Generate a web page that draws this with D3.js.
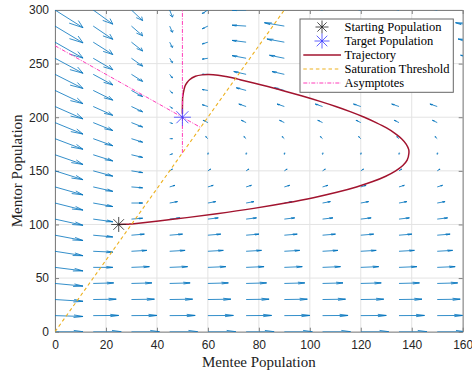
<!DOCTYPE html>
<html lang="en">
<head>
<meta charset="UTF-8">
<title>Mentor / Mentee</title>
<script src="https://cdn.jsdelivr.net/npm/d3@7"></script>
<style>
  body { margin: 0; background: #fff; }
  svg { display: block; }
</style>
</head>
<body>
<svg id="mainsvg" width="472" height="373"></svg>
<script>
// vector field grid (mentee x, mentor y)
const gridX = [0, 15, 30, 45, 60, 75, 90, 105, 120, 135, 150, 165];
const gridY = [0, 15, 30, 45, 60, 75, 90, 105, 120, 135, 150, 165, 180, 195, 210, 225, 240, 255, 270, 285, 300];
// one row per gridY value
const fieldU = [
  [50, 50, 50, 50, 50, 50, 50, 50, 50, 50, 50, 50],
  [50, 45.5, 45.5, 45.5, 45.5, 45.5, 45.5, 45.5, 45.5, 45.5, 45.5, 45.5],
  [50, 41, 41, 41, 41, 41, 41, 41, 41, 41, 41, 41],
  [50, 36.5, 36.5, 36.5, 36.5, 36.5, 36.5, 36.5, 36.5, 36.5, 36.5, 36.5],
  [50, 35, 32, 32, 32, 32, 32, 32, 32, 32, 32, 32],
  [50, 35, 27.5, 27.5, 27.5, 27.5, 27.5, 27.5, 27.5, 27.5, 27.5, 27.5],
  [50, 35, 23, 23, 23, 23, 23, 23, 23, 23, 23, 23],
  [50, 35, 20, 18.5, 18.5, 18.5, 18.5, 18.5, 18.5, 18.5, 18.5, 18.5],
  [50, 35, 20, 14, 14, 14, 14, 14, 14, 14, 14, 14],
  [50, 35, 20, 9.5, 9.5, 9.5, 9.5, 9.5, 9.5, 9.5, 9.5, 9.5],
  [50, 35, 20, 5, 5, 5, 5, 5, 5, 5, 5, 5],
  [50, 35, 20, 5, 0.5, 0.5, 0.5, 0.5, 0.5, 0.5, 0.5, 0.5],
  [50, 35, 20, 5, -4, -4, -4, -4, -4, -4, -4, -4],
  [50, 35, 20, 5, -8.5, -8.5, -8.5, -8.5, -8.5, -8.5, -8.5, -8.5],
  [50, 35, 20, 5, -10, -13, -13, -13, -13, -13, -13, -13],
  [50, 35, 20, 5, -10, -17.5, -17.5, -17.5, -17.5, -17.5, -17.5, -17.5],
  [50, 35, 20, 5, -10, -22, -22, -22, -22, -22, -22, -22],
  [50, 35, 20, 5, -10, -25, -26.5, -26.5, -26.5, -26.5, -26.5, -26.5],
  [50, 35, 20, 5, -10, -25, -31, -31, -31, -31, -31, -31],
  [50, 35, 20, 5, -10, -25, -35.5, -35.5, -35.5, -35.5, -35.5, -35.5],
  [50, 35, 20, 5, -10, -25, -40, -40, -40, -40, -40, -40]
];
const fieldV = [
  [0, 0, 0, 0, 0, 0, 0, 0, 0, 0, 0, 0],
  [-3.75, 0.75, 0.75, 0.75, 0.75, 0.75, 0.75, 0.75, 0.75, 0.75, 0.75, 0.75],
  [-7.5, 1.5, 1.5, 1.5, 1.5, 1.5, 1.5, 1.5, 1.5, 1.5, 1.5, 1.5],
  [-11.25, 2.25, 2.25, 2.25, 2.25, 2.25, 2.25, 2.25, 2.25, 2.25, 2.25, 2.25],
  [-15, 0, 3, 3, 3, 3, 3, 3, 3, 3, 3, 3],
  [-18.75, -3.75, 3.75, 3.75, 3.75, 3.75, 3.75, 3.75, 3.75, 3.75, 3.75, 3.75],
  [-22.5, -7.5, 4.5, 4.5, 4.5, 4.5, 4.5, 4.5, 4.5, 4.5, 4.5, 4.5],
  [-26.25, -11.25, 3.75, 5.25, 5.25, 5.25, 5.25, 5.25, 5.25, 5.25, 5.25, 5.25],
  [-30, -15, 0, 6, 6, 6, 6, 6, 6, 6, 6, 6],
  [-33.75, -18.75, -3.75, 6.75, 6.75, 6.75, 6.75, 6.75, 6.75, 6.75, 6.75, 6.75],
  [-37.5, -22.5, -7.5, 7.5, 7.5, 7.5, 7.5, 7.5, 7.5, 7.5, 7.5, 7.5],
  [-41.25, -26.25, -11.25, 3.75, 8.25, 8.25, 8.25, 8.25, 8.25, 8.25, 8.25, 8.25],
  [-45, -30, -15, 0, 9, 9, 9, 9, 9, 9, 9, 9],
  [-48.75, -33.75, -18.75, -3.75, 9.75, 9.75, 9.75, 9.75, 9.75, 9.75, 9.75, 9.75],
  [-52.5, -37.5, -22.5, -7.5, 7.5, 10.5, 10.5, 10.5, 10.5, 10.5, 10.5, 10.5],
  [-56.25, -41.25, -26.25, -11.25, 3.75, 11.25, 11.25, 11.25, 11.25, 11.25, 11.25, 11.25],
  [-60, -45, -30, -15, 0, 12, 12, 12, 12, 12, 12, 12],
  [-63.75, -48.75, -33.75, -18.75, -3.75, 11.25, 12.75, 12.75, 12.75, 12.75, 12.75, 12.75],
  [-67.5, -52.5, -37.5, -22.5, -7.5, 7.5, 13.5, 13.5, 13.5, 13.5, 13.5, 13.5],
  [-71.25, -56.25, -41.25, -26.25, -11.25, 3.75, 14.25, 14.25, 14.25, 14.25, 14.25, 14.25],
  [-75, -60, -45, -30, -15, 0, 15, 15, 15, 15, 15, 15]
];

// trajectory
const trajX = [25, 27, 29, 30.2, 47.0, 63.5, 78.0, 90.5, 101.4, 110.6, 118.3, 124.7, 129.8, 133.7, 136.5, 138.2, 138.9, 138.8, 137.8, 136.0, 133.4, 130.1, 126.0, 121.4, 116.1, 110.2, 103.7, 96.7, 89.2, 81.1, 72.6, 70.9, 67.1, 64.0, 60.4, 57.7, 55.1, 52.8, 51.7, 51.0, 50.4, 50.1, 50.05, 50.0, 50.0, 50.0];
const trajY = [100, 100.1, 100.3, 100.5, 105, 110, 115, 120, 125, 130, 135, 140, 145, 150, 155, 160, 166.7, 170, 175, 180, 185, 190, 195, 200, 205, 210, 215, 220, 225, 230, 235, 236.1, 238.0, 239.2, 239.8, 239.5, 238.2, 235.0, 231.9, 228.8, 223.0, 218.3, 214.3, 208.6, 205.2, 203.2];

const startPop = [25, 100];
const targetPop = [50, 200];
const saturationX = [0, 90];
const saturationY = [0, 300];
const asymVertX = [50, 50];
const asymVertY = [166.7, 300];
const asymDiagX = [0, 57.14];
const asymDiagY = [266.67, 190.48];

const xTicks = [0, 20, 40, 60, 80, 100, 120, 140, 160];
const yTicks = [0, 50, 100, 150, 200, 250, 300];
const legendLabels = ["Starting Population", "Target Population", "Trajectory", "Saturation Threshold", "Asymptotes"];

const svg = d3.select("#mainsvg");
const x = d3.scaleLinear().domain([0, 160]).range([55, 462.7]);
const y = d3.scaleLinear().domain([0, 300]).range([331.7, 10]);

const axisColor = "#808080";
const quiverColor = "#0072BD";
const trajColor = "#A2142F";
const satColor = "#EDB120";
const asymColor = "#ff3cb9";

svg.append("defs").append("clipPath").attr("id", "plotclip")
  .append("rect")
  .attr("x", x(0)).attr("y", y(300))
  .attr("width", x(160) - x(0)).attr("height", y(0) - y(300));

// grid lines
const grid = svg.append("g");
grid.selectAll(".gx").data(xTicks).join("line")
  .attr("x1", d => x(d)).attr("x2", d => x(d))
  .attr("y1", y(0)).attr("y2", y(300))
  .attr("stroke", "#e3e3e3").attr("stroke-width", 1);
grid.selectAll(".gy").data(yTicks).join("line")
  .attr("y1", d => y(d)).attr("y2", d => y(d))
  .attr("x1", x(0)).attr("x2", x(160))
  .attr("stroke", "#e3e3e3").attr("stroke-width", 1);

// axes, ticks inward on all four sides
function styleAxis(g) {
  g.selectAll(".domain").attr("stroke", axisColor);
  g.selectAll(".tick line").attr("stroke", axisColor);
  g.selectAll("text").attr("fill", "#262626")
    .attr("font-family", "'Liberation Sans', Arial, sans-serif").attr("font-size", 12);
}
svg.append("g").attr("transform", `translate(0,${y(0)})`)
  .call(d3.axisBottom(x).tickValues(xTicks).tickSizeInner(-4).tickSizeOuter(0).tickPadding(9))
  .call(styleAxis);
svg.append("g").attr("transform", `translate(0,${y(300)})`)
  .call(d3.axisTop(x).tickValues(xTicks).tickSizeInner(-4).tickSizeOuter(0).tickFormat(""))
  .call(styleAxis);
svg.append("g").attr("transform", `translate(${x(0)},0)`)
  .call(d3.axisLeft(y).tickValues(yTicks).tickSizeInner(-4).tickSizeOuter(0).tickPadding(6))
  .call(styleAxis);
svg.append("g").attr("transform", `translate(${x(160)},0)`)
  .call(d3.axisRight(y).tickValues(yTicks).tickSizeInner(-4).tickSizeOuter(0).tickFormat(""))
  .call(styleAxis);

// quiver
const arrows = [];
gridY.forEach((gy, i) => {
  gridX.forEach((gx, j) => {
    arrows.push({x: gx, y: gy, u: fieldU[i][j], v: fieldV[i][j]});
  });
});
const qScale = 0.22, alpha = 0.33, beta = 0.33;
function arrowPath(d) {
  const U = d.u * qScale, V = d.v * qScale;
  const tx = d.x + U, ty = d.y + V;
  const h1x = tx - alpha * (U + beta * V), h1y = ty - alpha * (V - beta * U);
  const h2x = tx - alpha * (U - beta * V), h2y = ty - alpha * (V + beta * U);
  return `M${x(d.x)},${y(d.y)}L${x(tx)},${y(ty)}M${x(h1x)},${y(h1y)}L${x(tx)},${y(ty)}L${x(h2x)},${y(h2y)}`;
}
svg.append("g").attr("clip-path", "url(#plotclip)")
  .selectAll("path").data(arrows).join("path")
  .attr("d", arrowPath)
  .attr("fill", "none")
  .attr("stroke", quiverColor)
  .attr("stroke-width", 0.8);

const plot = svg.append("g").attr("clip-path", "url(#plotclip)");

function asterisk(cx, cy, r) {
  const k = r * Math.SQRT1_2;
  return `M${cx - r},${cy}L${cx + r},${cy}M${cx},${cy - r}L${cx},${cy + r}` +
    `M${cx - k},${cy - k}L${cx + k},${cy + k}M${cx - k},${cy + k}L${cx + k},${cy - k}`;
}

const line = d3.line().x(d => x(d[0])).y(d => y(d[1]));

// trajectory
plot.append("path")
  .attr("d", d3.line().x(d => x(d[0])).y(d => y(d[1])).curve(d3.curveCatmullRom.alpha(0.5))(trajX.map((v, i) => [v, trajY[i]])))
  .attr("fill", "none").attr("stroke", trajColor).attr("stroke-width", 1.5);

// saturation threshold
plot.append("path")
  .attr("d", line(saturationX.map((v, i) => [v, saturationY[i]])))
  .attr("fill", "none").attr("stroke", satColor).attr("stroke-width", 1.1)
  .attr("stroke-dasharray", "3.5,2.8");

// asymptotes
[[asymVertX, asymVertY], [asymDiagX, asymDiagY]].forEach(([ax, ay]) => {
  plot.append("path")
    .attr("d", line(ax.map((v, i) => [v, ay[i]])))
    .attr("fill", "none").attr("stroke", asymColor).attr("stroke-width", 1)
    .attr("stroke-dasharray", "4,1.5,1,1.5");
});

// markers
svg.append("path").attr("d", asterisk(x(startPop[0]), y(startPop[1]), 7.5))
  .attr("stroke", "#222").attr("stroke-width", 0.8).attr("fill", "none");
svg.append("path").attr("d", asterisk(x(targetPop[0]), y(targetPop[1]), 8.5))
  .attr("stroke", "#3a3aff").attr("stroke-width", 0.8).attr("fill", "none");

// legend
const legend = svg.append("g");
legend.append("rect")
  .attr("x", 300).attr("y", 19).attr("width", 153.3).attr("height", 73.3)
  .attr("fill", "#fff").attr("stroke", "#666").attr("stroke-width", 1);
const rowY = i => 27 + 14 * i;
legend.append("path").attr("d", asterisk(322, rowY(0), 6.5))
  .attr("stroke", "#222").attr("stroke-width", 0.8).attr("fill", "none");
legend.append("path").attr("d", asterisk(322, rowY(1), 7.5))
  .attr("stroke", "#3a3aff").attr("stroke-width", 0.8).attr("fill", "none");
legend.append("line").attr("x1", 303.3).attr("x2", 341).attr("y1", rowY(2)).attr("y2", rowY(2))
  .attr("stroke", trajColor).attr("stroke-width", 1.5);
legend.append("line").attr("x1", 303.3).attr("x2", 341).attr("y1", rowY(3)).attr("y2", rowY(3))
  .attr("stroke", satColor).attr("stroke-width", 1.1).attr("stroke-dasharray", "3.5,2.8");
legend.append("line").attr("x1", 303.3).attr("x2", 341).attr("y1", rowY(4)).attr("y2", rowY(4))
  .attr("stroke", asymColor).attr("stroke-width", 1).attr("stroke-dasharray", "4,1.5,1,1.5");
legend.selectAll(".ltext").data(legendLabels).join("text")
  .attr("x", 344.5).attr("y", (d, i) => rowY(i) + 4)
  .attr("font-family", "'Liberation Serif', 'Times New Roman', serif")
  .attr("font-size", 12.5).attr("fill", "#000")
  .text(d => d);

// axis labels
svg.append("text")
  .attr("x", (x(0) + x(160)) / 2).attr("y", 366.5)
  .attr("text-anchor", "middle")
  .attr("font-family", "'Liberation Serif', 'Times New Roman', serif")
  .attr("font-size", 15).attr("fill", "#222")
  .text("Mentee Population");
svg.append("text")
  .attr("transform", `translate(21.5,${(y(0) + y(300)) / 2}) rotate(-90)`)
  .attr("text-anchor", "middle")
  .attr("font-family", "'Liberation Serif', 'Times New Roman', serif")
  .attr("font-size", 15).attr("fill", "#222")
  .text("Mentor Population");
</script>
</body>
</html>
